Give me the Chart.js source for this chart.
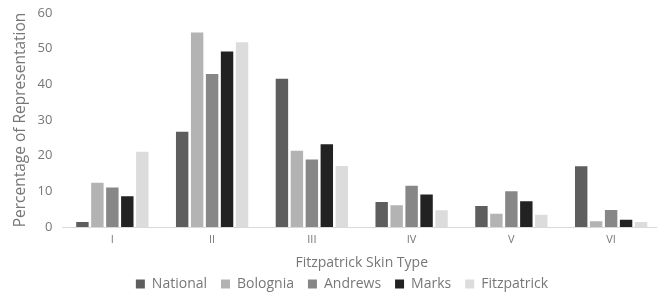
<!DOCTYPE html>
<html>
<head>
<meta charset="utf-8">
<script src="https://cdn.jsdelivr.net/npm/chart.js@4"></script>
<style>
  html, body { margin: 0; padding: 0; background: #fff; overflow: hidden; }
  #wrap { width: 684px; height: 294px; }
</style>
</head>
<body>
<div id="wrap"><canvas id="chart" width="684" height="294"></canvas></div>
<script>
// --- Datos ---
const skinTypes = ['I', 'II', 'III', 'IV', 'V', 'VI'];
const national    = [1.4, 26.7, 41.6, 7.0, 5.9, 17.0];
const bolognia    = [12.4, 54.5, 21.4, 6.1, 3.7, 1.6];
const andrews     = [11.1, 42.9, 18.9, 11.6, 10.0, 4.8];
const marks       = [8.6, 49.2, 23.2, 9.1, 7.2, 2.0];
const fitzpatrick = [21.1, 51.8, 17.1, 4.7, 3.4, 1.4];
const yTicks = [0, 10, 20, 30, 40, 50, 60];

const FONT = '"Open Sans", sans-serif';
const TEXT = '#777777';

function serie(label, data, color) {
    return { label, data, backgroundColor: color, borderWidth: 0,
             categoryPercentage: 0.75, barPercentage: 0.83 };
}

// el canvas es mas ancho que la ventana: el eje x se corta a la derecha como en la imagen
new Chart(document.getElementById('chart').getContext('2d'), {
    type: 'bar',
    data: {
        labels: skinTypes,
        datasets: [
            serie('National', national, '#5e5e5e'),
            serie('Bolognia', bolognia, '#b3b3b3'),
            serie('Andrews', andrews, '#878787'),
            serie('Marks', marks, '#222222'),
            serie('Fitzpatrick', fitzpatrick, '#dcdcdc')
        ]
    },
    options: {
        responsive: false,
        animation: false,
        layout: { padding: { top: 0, left: 23, right: 23, bottom: -7 } },
        plugins: {
            tooltip: { enabled: false },
            legend: {
                position: 'bottom',
                labels: {
                    boxWidth: 9, boxHeight: 9, padding: 14,
                    color: TEXT, font: { family: FONT, size: 14 }
                }
            }
        },
        scales: {
            x: {
                grid: { display: false, drawTicks: false },
                border: { color: '#d9d9d9', width: 1 },
                ticks: { color: TEXT, font: { family: FONT, size: 11 }, padding: 6 },
                title: { display: true, text: 'Fitzpatrick Skin Type', color: TEXT,
                         font: { family: FONT, size: 14 }, padding: { top: 2, bottom: -8 } }
            },
            y: {
                min: 0, max: 60,
                afterBuildTicks: axis => { axis.ticks = yTicks.map(v => ({ value: v })); },
                afterFit: axis => { axis.paddingTop = 13; },
                grid: { display: false, drawTicks: false },
                border: { display: false },
                ticks: { color: TEXT, font: { family: FONT, size: 13 }, padding: 10 },
                title: { display: true, text: 'Percentage of Representation', color: TEXT,
                         font: { family: FONT, size: 15.5 }, padding: { top: -12, bottom: -2 } }
            }
        }
    }
});
</script>
</body>
</html>
